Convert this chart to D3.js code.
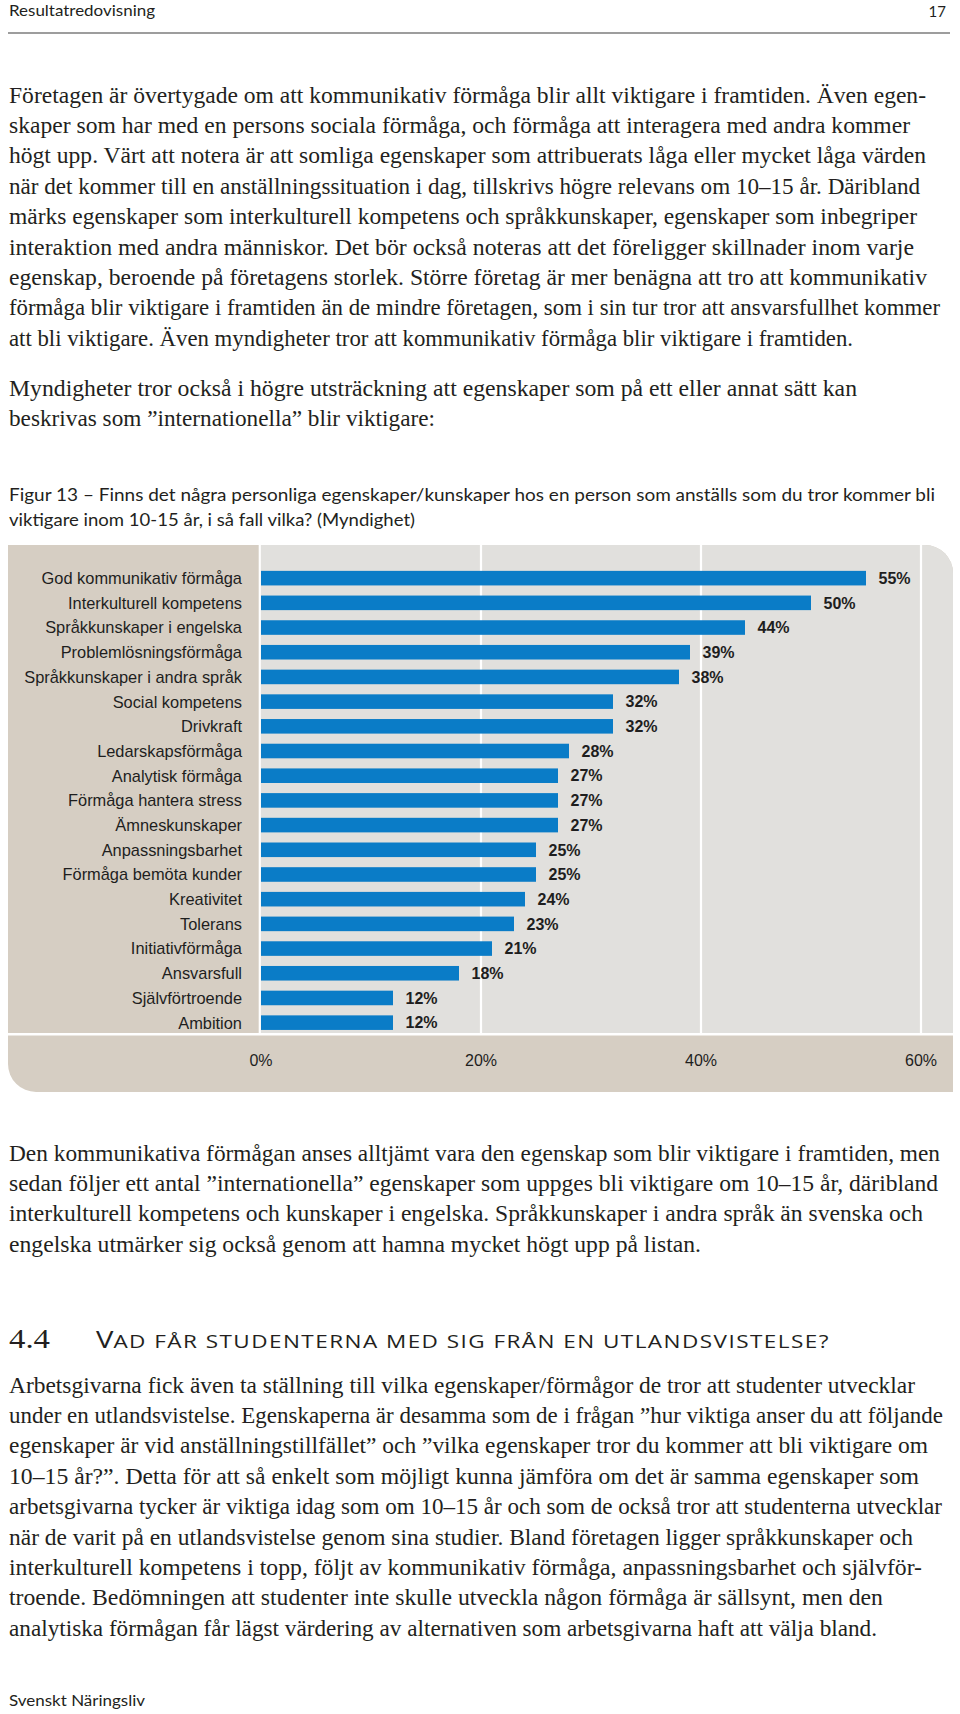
<!DOCTYPE html>
<html>
<head>
<meta charset="utf-8">
<script src="https://cdn.jsdelivr.net/npm/d3@7"></script>
<style>
  html, body { margin: 0; padding: 0; background: #ffffff; }
  svg { display: block; }
</style>
</head>
<body>
<div id="page"></div>
<script>
// ---------------- data ----------------
const categories = [
  "God kommunikativ förmåga",
  "Interkulturell kompetens",
  "Språkkunskaper i engelska",
  "Problemlösningsförmåga",
  "Språkkunskaper i andra språk",
  "Social kompetens",
  "Drivkraft",
  "Ledarskapsförmåga",
  "Analytisk förmåga",
  "Förmåga hantera stress",
  "Ämneskunskaper",
  "Anpassningsbarhet",
  "Förmåga bemöta kunder",
  "Kreativitet",
  "Tolerans",
  "Initiativförmåga",
  "Ansvarsfull",
  "Självförtroende",
  "Ambition"
];
const values = [55, 50, 44, 39, 38, 32, 32, 28, 27, 27, 27, 25, 25, 24, 23, 21, 18, 12, 12];
const xTicks = [0, 20, 40, 60];
const tickLabels = ["0%", "20%", "40%", "60%"];

const headerText = "Resultatredovisning";
const pageNumber = "17";
const footerText = "Svenskt Näringsliv";

const para1 = [
  "Företagen är övertygade om att kommunikativ förmåga blir allt viktigare i framtiden. Även egen-",
  "skaper som har med en persons sociala förmåga, och förmåga att interagera med andra kommer",
  "högt upp. Värt att notera är att somliga egenskaper som attribuerats låga eller mycket låga värden",
  "när det kommer till en anställningssituation i dag, tillskrivs högre relevans om 10–15 år. Däribland",
  "märks egenskaper som interkulturell kompetens och språkkunskaper, egenskaper som inbegriper",
  "interaktion med andra människor. Det bör också noteras att det föreligger skillnader inom varje",
  "egenskap, beroende på företagens storlek. Större företag är mer benägna att tro att kommunikativ",
  "förmåga blir viktigare i framtiden än de mindre företagen, som i sin tur tror att ansvarsfullhet kommer",
  "att bli viktigare. Även myndigheter tror att kommunikativ förmåga blir viktigare i framtiden."
];
const para2 = [
  "Myndigheter tror också i högre utsträckning att egenskaper som på ett eller annat sätt kan",
  "beskrivas som ”internationella” blir viktigare:"
];
const caption = [
  "Figur 13 – Finns det några personliga egenskaper/kunskaper hos en person som anställs som du tror kommer bli",
  "viktigare inom 10-15 år, i så fall vilka? (Myndighet)"
];
const para3 = [
  "Den kommunikativa förmågan anses alltjämt vara den egenskap som blir viktigare i framtiden, men",
  "sedan följer ett antal ”internationella” egenskaper som uppges bli viktigare om 10–15 år, däribland",
  "interkulturell kompetens och kunskaper i engelska. Språkkunskaper i andra språk än svenska och",
  "engelska utmärker sig också genom att hamna mycket högt upp på listan."
];
const headingNumber = "4.4";
const headingFirst = "V";
const headingRest = "AD FÅR STUDENTERNA MED SIG FRÅN EN UTLANDSVISTELSE?";
const para4 = [
  "Arbetsgivarna fick även ta ställning till vilka egenskaper/förmågor de tror att studenter utvecklar",
  "under en utlandsvistelse. Egenskaperna är desamma som de i frågan ”hur viktiga anser du att följande",
  "egenskaper är vid anställningstillfället” och ”vilka egenskaper tror du kommer att bli viktigare om",
  "10–15 år?”. Detta för att så enkelt som möjligt kunna jämföra om det är samma egenskaper som",
  "arbetsgivarna tycker är viktiga idag som om 10–15 år och som de också tror att studenterna utvecklar",
  "när de varit på en utlandsvistelse genom sina studier. Bland företagen ligger språkkunskaper och",
  "interkulturell kompetens i topp, följt av kommunikativ förmåga, anpassningsbarhet och självför-",
  "troende. Bedömningen att studenter inte skulle utveckla någon förmåga är sällsynt, men den",
  "analytiska förmågan får lägst värdering av alternativen som arbetsgivarna haft att välja bland."
];

// ---------------- layout (measured line ends) ----------------
const para1Ends = [926, 910, 926, 920, 917, 914, 927, 940, 853];
const para2Ends = [857, 435];
const captionEnds = [935, 415];
const para3Ends = [940, 938, 923, 701];
const para4Ends = [915, 943, 928, 919, 942, 913, 922, 883, 877];

const W = 960, H = 1714;
const LEFT = 9;
const ink = "#231f20";
const SERIF = '"Liberation Serif", "Times New Roman", serif';
const SANS = 'Lato, "Open Sans", sans-serif';
const ARIAL = '"Liberation Sans", Arial, sans-serif';
const HEAD = '"Open Sans", sans-serif';

const svg = d3.select("#page").append("svg")
  .attr("width", W).attr("height", H)
  .attr("viewBox", `0 0 ${W} ${H}`);

svg.append("rect").attr("width", W).attr("height", H).attr("fill", "#ffffff");

// header
svg.append("text").attr("x", LEFT).attr("y", 16)
  .style("font-family", SANS).attr("font-size", 15).attr("fill", ink)
  .attr("textLength", 146).attr("lengthAdjust", "spacingAndGlyphs")
  .text(headerText);
svg.append("text").attr("x", 946).attr("y", 17).attr("text-anchor", "end")
  .style("font-family", SANS).attr("font-size", 15).attr("fill", ink)
  .text(pageNumber);
svg.append("line").attr("x1", 8).attr("x2", 950).attr("y1", 33).attr("y2", 33)
  .attr("stroke", "#9d9d9d").attr("stroke-width", 2.2);

function paragraph(lines, ends, firstBaseline, step, family, size) {
  const g = svg.append("g");
  g.selectAll("text").data(lines).join("text")
    .attr("x", LEFT)
    .attr("y", (d, i) => firstBaseline + i * step)
    .style("font-family", family)
    .attr("font-size", size)
    .attr("fill", ink)
    .attr("textLength", (d, i) => ends[i] - LEFT)
    .attr("lengthAdjust", "spacingAndGlyphs")
    .text(d => d);
  return g;
}

paragraph(para1, para1Ends, 102.5, 30.4, SERIF, 23);
paragraph(para2, para2Ends, 395.5, 30.4, SERIF, 23);
paragraph(caption, captionEnds, 501, 24.5, SANS, 17);
paragraph(para3, para3Ends, 1160.5, 30.4, SERIF, 23);
paragraph(para4, para4Ends, 1392.5, 30.4, SERIF, 23);

// heading
svg.append("text").attr("x", LEFT).attr("y", 1348)
  .style("font-family", SERIF).attr("font-size", 27).attr("fill", ink)
  .attr("textLength", 41).attr("lengthAdjust", "spacingAndGlyphs")
  .text(headingNumber);
const ht = svg.append("text").attr("x", 96).attr("y", 1348)
  .style("font-family", HEAD).attr("fill", ink)
  .attr("textLength", 734).attr("lengthAdjust", "spacingAndGlyphs");
ht.append("tspan").attr("font-size", 24).text(headingFirst);
ht.append("tspan").attr("font-size", 18.5).attr("letter-spacing", 1.2).text(headingRest);

// footer
svg.append("text").attr("x", LEFT).attr("y", 1706)
  .style("font-family", SANS).attr("font-size", 15).attr("fill", ink)
  .attr("textLength", 136).attr("lengthAdjust", "spacingAndGlyphs")
  .text(footerText);

// ---------------- chart ----------------
const panel = { left: 8, top: 545, right: 953, bottom: 1092, r: 28 };
const plotLeft = 261, plotBottom = 1033;
const beige = "#d6cec3", plotGray = "#e1e0dd", barBlue = "#0a7cc7";

const x = d3.scaleLinear().domain([0, 60]).range([plotLeft, 921]);
const y = d3.scaleBand().domain(categories)
  .range([565.8, 1035]).paddingInner(0.41).paddingOuter(0.205);

const chart = svg.append("g");

const p = panel;
chart.append("path")
  .attr("d", `M${p.left},${p.top} H${p.right - p.r} A${p.r},${p.r} 0 0 1 ${p.right},${p.top + p.r}
              V${p.bottom} H${p.left + p.r} A${p.r},${p.r} 0 0 1 ${p.left},${p.bottom - p.r} Z`)
  .attr("fill", beige);

chart.append("path")
  .attr("d", `M${plotLeft},${p.top} H${p.right - p.r} A${p.r},${p.r} 0 0 1 ${p.right},${p.top + p.r}
              V${plotBottom} H${plotLeft} Z`)
  .attr("fill", plotGray);

chart.selectAll("line.grid").data(xTicks.filter(t => t > 0)).join("line")
  .attr("class", "grid")
  .attr("x1", d => x(d)).attr("x2", d => x(d))
  .attr("y1", p.top).attr("y2", plotBottom)
  .attr("stroke", "#ffffff").attr("stroke-width", 2.2);

chart.append("line")
  .attr("x1", x(0) - 1.2).attr("x2", x(0) - 1.2)
  .attr("y1", p.top).attr("y2", plotBottom + 1)
  .attr("stroke", "#ffffff").attr("stroke-width", 2.2);
chart.append("line")
  .attr("x1", p.left).attr("x2", p.right)
  .attr("y1", plotBottom + 1.2).attr("y2", plotBottom + 1.2)
  .attr("stroke", "#ffffff").attr("stroke-width", 2.4);

chart.selectAll("rect.bar").data(categories).join("rect")
  .attr("class", "bar")
  .attr("x", x(0))
  .attr("y", d => y(d))
  .attr("width", (d, i) => x(values[i]) - x(0))
  .attr("height", y.bandwidth())
  .attr("fill", barBlue);

chart.selectAll("text.cat").data(categories).join("text")
  .attr("class", "cat")
  .attr("x", 242)
  .attr("y", d => y(d) + y.bandwidth() / 2)
  .attr("dy", "0.36em")
  .attr("text-anchor", "end")
  .style("font-family", ARIAL).attr("font-size", 16.4).attr("fill", "#1e1e1e")
  .text(d => d);

chart.selectAll("text.val").data(categories).join("text")
  .attr("class", "val")
  .attr("x", (d, i) => x(values[i]) + 12.5)
  .attr("y", d => y(d) + y.bandwidth() / 2)
  .attr("dy", "0.36em")
  .style("font-family", ARIAL).attr("font-size", 16).attr("font-weight", "bold").attr("fill", "#1e1e1e")
  .text((d, i) => values[i] + "%");

chart.selectAll("text.tick").data(xTicks).join("text")
  .attr("class", "tick")
  .attr("x", d => x(d))
  .attr("y", 1066)
  .attr("text-anchor", "middle")
  .style("font-family", ARIAL).attr("font-size", 16).attr("fill", "#1e1e1e")
  .text((d, i) => tickLabels[i]);
</script>
</body>
</html>
